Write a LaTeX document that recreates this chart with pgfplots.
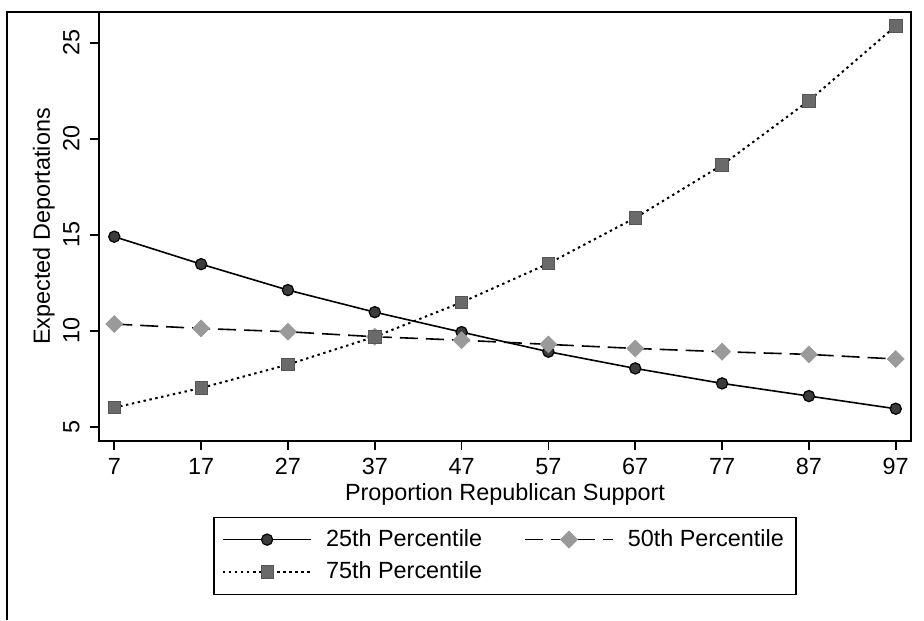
\documentclass[border=0pt]{standalone}
\usepackage{pgfplots}
\pgfplotsset{compat=1.18}
\usepackage{fontspec}
\setmainfont{Liberation Sans}
\definecolor{circfill}{HTML}{3C3C3C}
\definecolor{diafill}{HTML}{9A9A9A}
\definecolor{sqfill}{HTML}{6A6A6A}
\definecolor{sqedge}{HTML}{555555}
\begin{document}
\fontsize{11.7}{14}\selectfont
\begin{tikzpicture}
\begin{axis}[
  scale only axis,
  width=406pt, height=214.5pt,
  xmin=5.24, xmax=98.76,
  ymin=4.26, ymax=26.6,
  xtick={7,17,27,37,47,57,67,77,87,97},
  ytick={5,10,15,20,25},
  tick align=outside,
  major tick length=4.5pt,
  axis line style={line width=0.9pt},
  every tick/.style={black, line width=0.8pt},
  xtick pos=bottom, ytick pos=left,
  /pgf/number format/assume math mode=true,
  xticklabel style={anchor=base, inner sep=0pt},
  xticklabel shift=12.2pt,
  yticklabel style={rotate=90, anchor=south, inner sep=0pt},
  yticklabel shift=5pt,
  xlabel={Proportion Republican Support},
  ylabel={Expected Deportations},
  xlabel style={at={([yshift=-29.5pt]rel axis cs:0.5,0)}, anchor=base, inner sep=0pt},
  ylabel style={at={([xshift=-24.5pt]rel axis cs:0,0.5)}, anchor=base, inner sep=0pt, rotate=0},
  legend columns=2,
  legend cell align=left,
  legend style={at={(0.5,-0.1762)}, anchor=north, draw=black, line width=0.8pt,
    inner xsep=4pt, inner ysep=4pt, row sep=2pt,
    /tikz/every odd column/.append style={column sep=5pt},
    /tikz/every even column/.append style={column sep=19pt},
    nodes={inner sep=2pt}},
  legend image code/.code={\draw[mark repeat=2, mark phase=2, #1] plot coordinates {(0pt,0pt) (22pt,0pt) (44pt,0pt)};},
  clip=false,
]
\addplot[black, line width=0.8pt, mark=*, mark size=2.8pt,
  mark options={solid, fill=circfill, draw=black, line width=0.6pt}]
  coordinates {(7,14.90) (17,13.47) (27,12.12) (37,10.97) (47,9.93) (57,8.91) (67,8.04) (77,7.26) (87,6.60) (97,5.94)};
\addlegendentry{25th Percentile}
\addplot[black, line width=0.8pt, dash pattern=on 9pt off 4pt, mark=square*, mark size=3pt,
  mark options={solid, rotate=45, fill=diafill, draw=diafill, line width=0.3pt}]
  coordinates {(7,10.35) (17,10.12) (27,9.95) (37,9.69) (47,9.51) (57,9.29) (67,9.08) (77,8.91) (87,8.77) (97,8.53)};
\addlegendentry{50th Percentile}
\addplot[black, line width=1pt, dash pattern=on 1.2pt off 1.8pt, mark=square*, mark size=3.1pt,
  mark options={solid, fill=sqfill, draw=sqedge, line width=0.4pt}]
  coordinates {(7,6.00) (17,7.02) (27,8.24) (37,9.69) (47,11.48) (57,13.50) (67,15.88) (77,18.63) (87,21.98) (97,25.87)};
\addlegendentry{75th Percentile}
\end{axis}
\draw[line width=0.9pt] (-46pt,-89.5pt) -- (-46pt,214.5pt) -- (0pt,214.5pt);
\useasboundingbox (-49.5pt,-89.5pt) rectangle (412.5pt,220.5pt);
\end{tikzpicture}
\end{document}
